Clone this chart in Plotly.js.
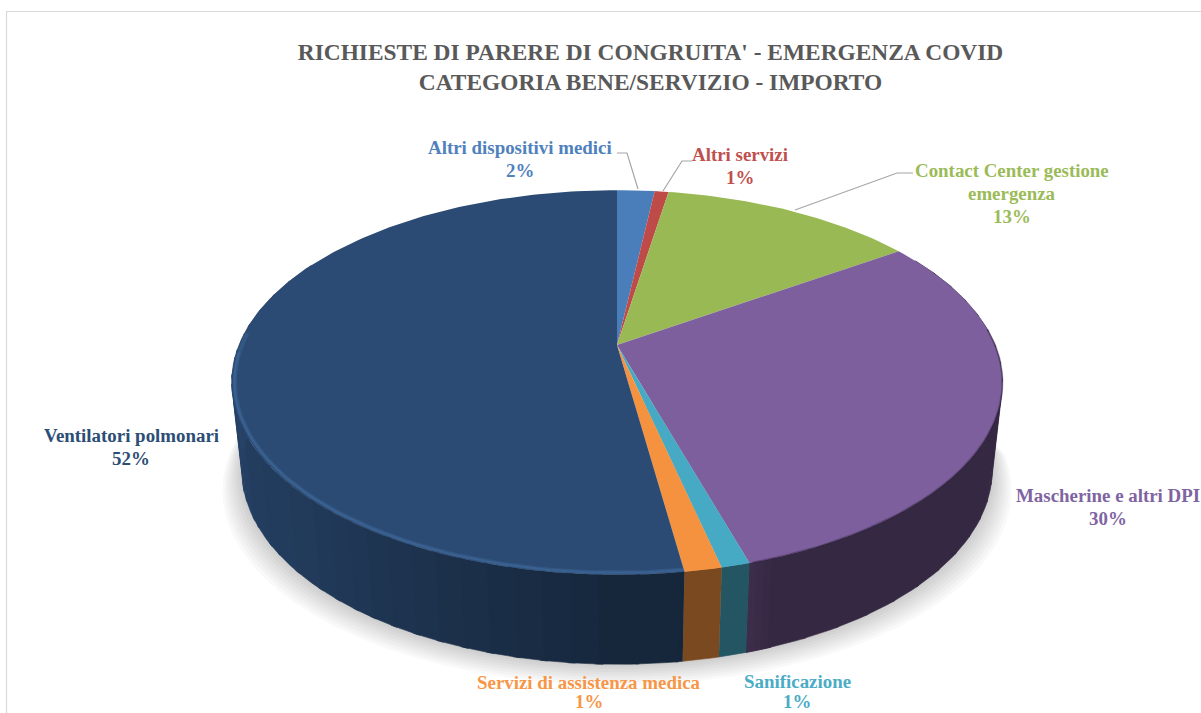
<!DOCTYPE html>
<html><head><meta charset="utf-8">
<script src="https://cdn.plot.ly/plotly-3.0.1.min.js"></script>
<style>html,body{margin:0;padding:0;background:#fff;overflow:hidden}#chart{width:1201px;height:713px}</style>
</head><body><div id="chart"></div>
<script>
// ---- data ----
const categories = ["Altri dispositivi medici","Altri servizi","Contact Center gestione<br>emergenza","Mascherine e altri DPI","Sanificazione","Servizi di assistenza medica","Ventilatori polmonari"];
const shares = [1.9,0.7,12.9,29.9,1.0,1.3,52.3];
const sliceColors = ["#4a7ebb","#be4b48","#98b954","#7e5f9d","#46aac4","#f59240","#2b4b74"];
const labelColors = ["#4f81bd","#c0504d","#9bbb59","#8064a2","#4bacc6","#f79646","#2c4d75"];
const labelPos = [[520,159,23],[740,166,23],[1012,193,23],[1108,507,23],[797,691,20],[589,692,19],[131,447,23]];
const titleLines = ["RICHIESTE DI PARERE DI CONGRUITA' - EMERGENZA COVID","CATEGORIA BENE/SERVIZIO - IMPORTO"];

// ---- projection of the tilted disc ----
const topDisc = {cx:617, cy:345, a:378, b:185};
const botDisc = {cx:617, cy:432, a:368, b:187};
const persp = 0.195;
function project(d, deg, r){
  r = r===undefined?1:r;
  const t = deg*Math.PI/180, u = r*Math.sin(t), v = r*Math.cos(t), s = 1/(1+persp*v);
  return [d.cx + d.a*u*s, d.cy - d.b*v*s];
}
const shadeStops = [[0,.42],[160,.42],[163.5,.5],[180,.52],[205,.66],[225,.78],[280,.92],[360,.92]];
function shade(t){
  for(let i=1;i<shadeStops.length;i++){
    if(t<=shadeStops[i][0]){
      const [a,sa]=shadeStops[i-1],[b,sb]=shadeStops[i];
      return sa+(sb-sa)*(t-a)/(b-a);
    }
  }
  return .9;
}
function darker(hex,f){
  const n=parseInt(hex.slice(1),16);
  return `rgb(${Math.round((n>>16&255)*f)},${Math.round((n>>8&255)*f)},${Math.round((n&255)*f)})`;
}
const traces=[];
function poly(pts,color,noLine){
  traces.push({type:'scatter',mode:'lines',x:pts.map(p=>p[0]),y:pts.map(p=>p[1]),fill:'toself',fillcolor:color,
    line:{color:noLine?'rgba(0,0,0,0)':color,width:noLine?0:0.6},hoverinfo:'skip',showlegend:false});
}
function arc(d,a,b,step,grow,dy){
  const out=[];
  for(let t=a;;t+=step){
    const q=t>b?b:t, p=project(d,q);
    out.push([d.cx+(p[0]-d.cx)*(grow||1), p[1]+(dy||0)]);
    if(t>=b)break;
  }
  return out;
}
// soft shadow below the wall
for(let i=8;i>=1;i--){
  poly(arc(botDisc,90,300,4,1+i*0.0065,i*2.6),'rgba(0,0,0,0.024)',true);
}
// walls: built from narrow bands, each overlapping the next so no seam shows
const total=shares.reduce((s,x)=>s+x,0);
let bounds=[0]; shares.forEach(v=>bounds.push(bounds[bounds.length-1]+v/total*360));
function wallBand(a,b,c){
  const upper=arc(topDisc,a,b,0.5), lower=arc(botDisc,a,b,0.5).reverse();
  poly(upper.concat(lower),c);
}
const maxSpan=5;
shares.forEach((v,i)=>{
  const a=Math.max(bounds[i],60), b=Math.min(bounds[i+1],298);
  if(b<=a)return;
  let start=a;
  while(start<b-1e-6){
    const q=Math.round(shade(start)*50)/50;
    let end=start;
    while(end<b-1e-6 && end-start<maxSpan && Math.round(shade(Math.min(end+0.5,b))*50)/50===q) end=Math.min(end+0.5,b);
    if(end===start) end=Math.min(start+0.5,b);
    wallBand(start,Math.min(end+0.5,b),darker(sliceColors[i],q));
    start=end;
  }
});
// top faces
shares.forEach((v,i)=>{
  const a=bounds[i],b=bounds[i+1];
  poly([[topDisc.cx,topDisc.cy]].concat(arc(topDisc,a,b,1),[[topDisc.cx,topDisc.cy]]),sliceColors[i],true);
});
// bevel highlights
function rim(a,b,color,w,r){
  const pts=[];for(let t=a;t<=b;t+=1.5)pts.push(project(topDisc,t,r));
  traces.push({type:'scatter',mode:'lines',x:pts.map(p=>p[0]),y:pts.map(p=>p[1]),line:{color:color,width:w},hoverinfo:'skip',showlegend:false});
}
rim(bounds[6],275,'rgba(72,118,172,0.28)',4,0.992);
rim(bounds[6],268,'rgba(72,118,172,0.35)',2,0.993);
rim(85,bounds[4],'rgba(45,32,62,0.4)',2,1);
// leader lines
const leaders=[[[617,153],[627,153],[638,189]],[[692,161],[682,161],[663,191]],[[913,173],[897,173],[795,210]]];
leaders.forEach(l=>traces.push({type:'scatter',mode:'lines',x:l.map(p=>p[0]),y:l.map(p=>p[1]),line:{color:'#a6a6a6',width:1.2},hoverinfo:'skip',showlegend:false}));

const serif='"Liberation Serif","DejaVu Serif",serif';
const annotations=[];
categories.forEach((c,i)=>{
  const lines=c.split('<br>').concat([Math.round(shares[i])+'%']);
  lines.forEach((txt,k)=>annotations.push({
    xref:'x',yref:'y',x:labelPos[i][0],y:labelPos[i][1]+(k-(lines.length-1)/2)*labelPos[i][2],xanchor:'center',yanchor:'middle',showarrow:false,align:'center',
    text:`<b>${txt}</b>`,font:{family:serif,size:18.9,color:labelColors[i]}
  }));
});
const layout={
  width:1201,height:713,margin:{l:0,r:0,t:0,b:0},paper_bgcolor:'#fff',plot_bgcolor:'#fff',showlegend:false,
  xaxis:{range:[0,1201],visible:false,fixedrange:true},
  yaxis:{range:[713,0],visible:false,fixedrange:true},
  title:{text:'<b>'+titleLines.join('<br>')+'</b>',x:650.5/1201,xanchor:'center',y:1-60/713,yanchor:'middle',font:{family:serif,size:23.4,color:'#595959'}},
  shapes:[
    {type:'line',xref:'x',yref:'y',x0:6,x1:1201,y0:11.5,y1:11.5,line:{color:'#d9d9d9',width:1.2}},
    {type:'line',xref:'x',yref:'y',x0:6.5,x1:6.5,y0:11,y1:713,line:{color:'#d9d9d9',width:1.2}}
  ],
  annotations
};
Plotly.newPlot('chart',traces,layout,{displayModeBar:false,staticPlot:true});
</script></body></html>
